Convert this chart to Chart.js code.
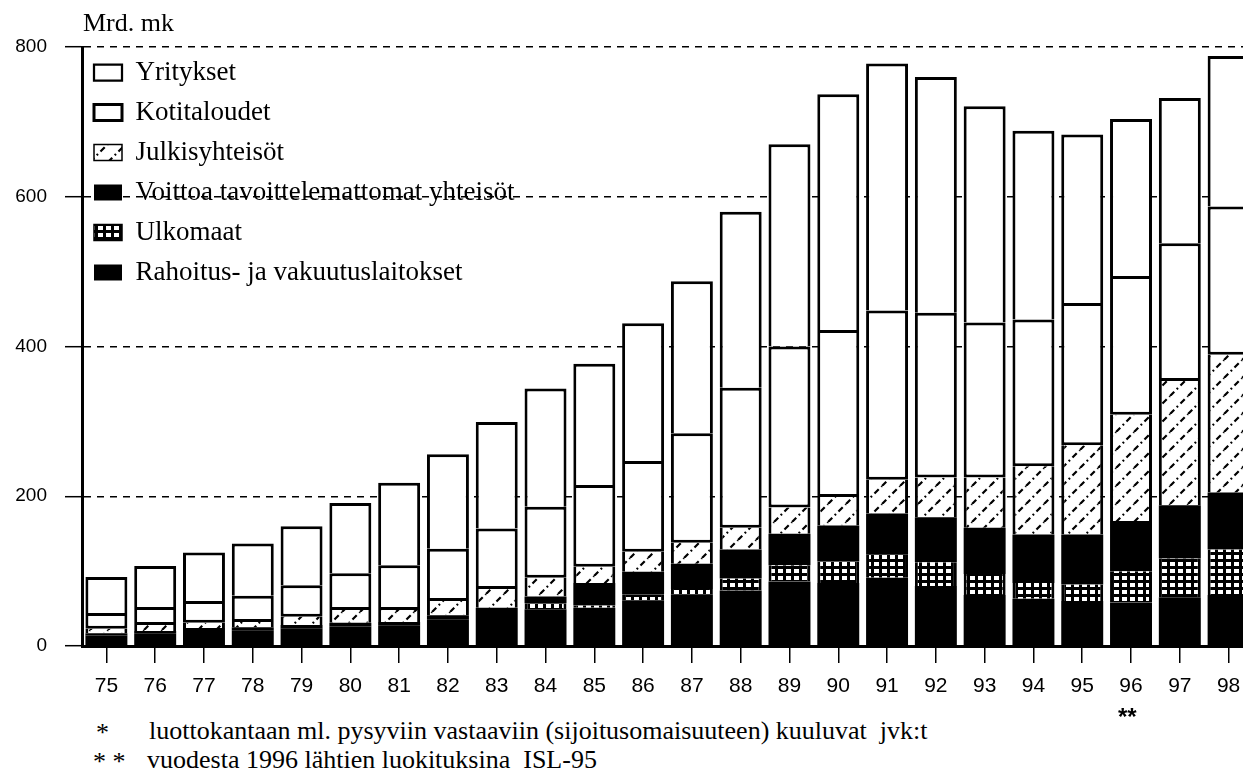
<!DOCTYPE html>
<html>
<head>
<meta charset="utf-8">
<script src="https://cdn.jsdelivr.net/npm/chart.js@4/dist/chart.umd.min.js"></script>
<style>
  html, body { margin: 0; padding: 0; background: #fff; overflow: hidden; width: 1243px; height: 777px; }
  #wrap { position: absolute; left: 0; top: 0; width: 1263px; height: 710px; }
  .txt { position: absolute; font-family: 'Liberation Serif', serif; color: #000; white-space: pre; line-height: 1; }
</style>
</head>
<body>
<div id="wrap"><canvas id="c"></canvas></div>
<div class="txt" style="left:83px; top:10px; font-size:26px;">Mrd. mk</div>
<div class="txt" style="left:1118px; top:705px; font-size:24px; font-family:'Liberation Sans',sans-serif; font-weight:bold;">**</div>
<div class="txt" style="left:96px; top:720px; font-size:26px;">*</div>
<div class="txt" style="left:149px; top:718px; font-size:26px;">luottokantaan ml. pysyviin vastaaviin (sijoitusomaisuuteen) kuuluvat  jvk:t</div>
<div class="txt" style="left:93px; top:749px; font-size:26px;">* *</div>
<div class="txt" style="left:147px; top:747px; font-size:26px;">vuodesta 1996 lähtien luokituksina  ISL-95</div>
<script>
// ---- data (Mrd. mk) ----
const years = ['75','76','77','78','79','80','81','82','83','84','85','86','87','88','89','90','91','92','93','94','95','96','97','98'];
const rahoitus  = [14, 17, 20, 21, 23, 26, 27, 35, 44, 49, 51, 61, 69, 74, 86, 84, 91, 80, 68, 63, 60, 58, 65, 68];
const ulkomaat  = [0, 0, 0, 0, 0, 0, 0, 0, 0, 8, 3, 8, 7, 16, 22, 29, 31, 32, 28, 21, 22, 42, 52, 61];
const voittoa   = [3, 3, 4, 4, 5, 5, 5, 6, 7, 9, 30, 30, 34, 39, 42, 48, 55, 60, 62, 65, 67, 67, 71, 76];
const julkis    = [6, 8, 7, 7, 11, 17, 16, 19, 25, 25, 22, 27, 28, 29, 35, 38, 45, 53, 67, 91, 119, 142, 166, 184];
const kotitaloudet = [21, 24, 29, 35, 42, 49, 60, 70, 81, 95, 109, 121, 146, 187, 215, 223, 226, 220, 207, 196, 190, 185, 184, 198];
const yritykset = [48, 55, 65, 70, 79, 94, 110, 126, 142, 158, 162, 184, 203, 235, 270, 315, 330, 315, 289, 252, 225, 210, 194, 201];
const yTicks = [0, 200, 400, 600, 800];
const seriesNames = ['Rahoitus- ja vakuutuslaitokset', 'Ulkomaat', 'Voittoa tavoittelemattomat yhteisöt', 'Julkisyhteisöt', 'Kotitaloudet', 'Yritykset'];

// ---- patterns ----
function hatchPattern() {
  const s = 18;
  const c = document.createElement('canvas'); c.width = s; c.height = s;
  const g = c.getContext('2d');
  g.fillStyle = '#fff'; g.fillRect(0, 0, s, s);
  g.strokeStyle = '#000'; g.lineWidth = 2.2; g.setLineDash([6, 3.5, 1.8, 3.5]);
  for (const o of [-s, 0, s]) { g.beginPath(); g.moveTo(o, s); g.lineTo(o + s, 0); g.stroke(); }
  return g.createPattern(c, 'repeat');
}
function gridPattern() {
  const c = document.createElement('canvas'); c.width = 8; c.height = 7;
  const g = c.getContext('2d');
  g.fillStyle = '#000'; g.fillRect(0, 0, 8, 7);
  g.fillStyle = '#fff'; g.fillRect(2, 2, 5, 4);
  return g.createPattern(c, 'repeat');
}

// place the legend inside the plot area, top-left
const legendPlace = {
  id: 'legendPlace',
  afterLayout(chart) {
    const l = chart.legend, a = chart.chartArea;
    if (l && a) { l.left = a.left - 1; l.top = a.top - 1; }
  }
};

const black = '#000';
const sideBorder = { top: 0, bottom: 0, left: 3, right: 3 };

new Chart(document.getElementById('c'), {
  type: 'bar',
  data: {
    labels: years,
    datasets: [
      { label: seriesNames[0], data: rahoitus, backgroundColor: black, borderWidth: 0 },
      { label: seriesNames[1], data: ulkomaat, backgroundColor: gridPattern(), borderColor: black, borderWidth: sideBorder, borderSkipped: false },
      { label: seriesNames[2], data: voittoa, backgroundColor: black, borderWidth: 0 },
      { label: seriesNames[3], data: julkis, backgroundColor: hatchPattern(), borderColor: black, borderWidth: sideBorder, borderSkipped: false },
      { label: seriesNames[4], data: kotitaloudet, backgroundColor: '#fff', borderColor: black, borderWidth: { top: 3, bottom: 3, left: 3, right: 3 }, borderSkipped: false },
      { label: seriesNames[5], data: yritykset, backgroundColor: '#fff', borderColor: black, borderWidth: { top: 3, bottom: 0, left: 3, right: 3 }, borderSkipped: false }
    ]
  },
  options: {
    responsive: true,
    maintainAspectRatio: false,
    animation: false,
    layout: { padding: { top: 47, left: 0, right: 10, bottom: 0 } },
    datasets: { bar: { categoryPercentage: 1, barPercentage: 0.86 } },
    plugins: {
      tooltip: { enabled: false },
      title: { display: false },
      legend: {
        position: 'chartArea',
        align: 'start',
        reverse: true,
        labels: {
          color: '#000',
          font: { family: "'Liberation Serif', serif", size: 27 },
          boxWidth: 28,
          boxHeight: 16,
          padding: 13
        }
      }
    },
    scales: {
      x: {
        stacked: true,
        offset: true,
        afterFit(scale) { scale.height = 64; },
        grid: { display: true, drawOnChartArea: false, drawTicks: true, offset: false, tickLength: 17, color: black, lineWidth: 1.5 },
        border: { display: true, color: black, width: 3 },
        ticks: { color: '#000', padding: 11, font: { family: "'Liberation Sans', sans-serif", size: 21 }, maxRotation: 0, autoSkip: false }
      },
      y: {
        stacked: true,
        min: 0,
        max: 800,
        afterFit(scale) { scale.width = 82; },
        afterBuildTicks(scale) { scale.ticks = yTicks.map(v => ({ value: v })); },
        grid: { color: black, lineWidth: 1.4, tickLength: 17, tickColor: black, tickWidth: 1.5, tickBorderDash: [] },
        border: { display: true, color: black, width: 3, dash: [7, 6] },
        ticks: { color: '#000', padding: 18, font: { family: "'Liberation Sans', sans-serif", size: 19 } }
      }
    }
  },
  plugins: [legendPlace]
});
</script>
</body>
</html>
